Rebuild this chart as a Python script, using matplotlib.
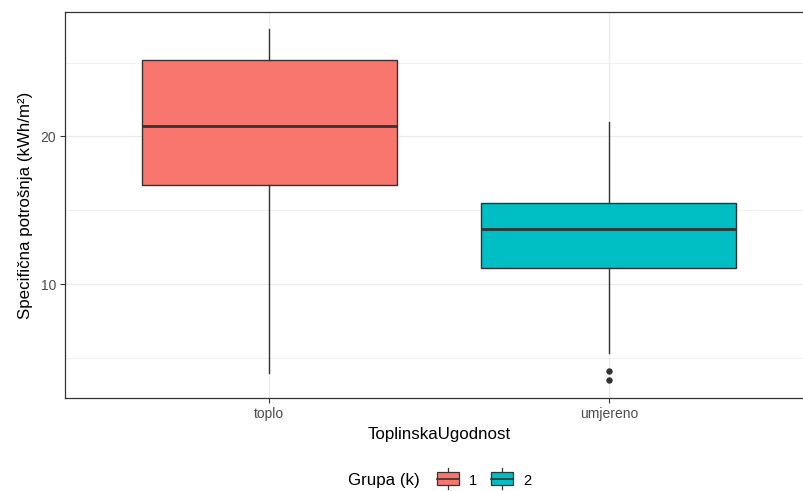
import matplotlib.pyplot as plt
from matplotlib.legend_handler import HandlerBase
from matplotlib.patches import Rectangle, Patch
from matplotlib.lines import Line2D
from matplotlib.offsetbox import HPacker

plt.rcParams['font.family'] = ['Liberation Sans', 'DejaVu Sans']

# podaci procijenjeni sa slike
kategorije = ["toplo", "umjereno"]
grupe = ["1", "2"]
boje = ["#F8766D", "#00BFC4"]
q1 = [16.68, 11.10]
medijan = [20.70, 13.74]
q3 = [25.19, 15.48]
donji_brk = [3.95, 5.35]
gornji_brk = [27.24, 20.97]
outlieri = [[], [4.10, 3.49]]

EDGE = "#333333"


class BoxHandler(HandlerBase):
    # legenda u ggplot stilu: kutija s medijanom i brkovima
    def create_artists(self, legend, orig_handle, xdescent, ydescent,
                       width, height, fontsize, trans):
        w = width
        h = height
        r = Rectangle((0, 0), w, h,
                      facecolor=orig_handle.get_facecolor(),
                      edgecolor=EDGE, lw=0.9, transform=trans)
        m = Line2D([0, w], [h * 0.5, h * 0.5], color=EDGE, lw=1.2,
                   transform=trans)
        t = Line2D([w / 2, w / 2], [h, h * 1.3], color=EDGE, lw=0.9,
                   transform=trans)
        b = Line2D([w / 2, w / 2], [0, -h * 0.3], color=EDGE, lw=0.9,
                   transform=trans)
        return [t, b, r, m]


fig = plt.figure(figsize=(8.04, 4.91), dpi=100)
ax = fig.add_axes([65 / 804, 1 - 398 / 491, (813 - 65) / 804, (398 - 12.3) / 491])

stats = []
for i in range(len(kategorije)):
    stats.append(dict(med=medijan[i], q1=q1[i], q3=q3[i],
                      whislo=donji_brk[i], whishi=gornji_brk[i],
                      fliers=outlieri[i]))

bp = ax.bxp(stats, positions=[1, 2], widths=0.75, patch_artist=True,
            showcaps=False, manage_ticks=False,
            boxprops=dict(edgecolor=EDGE, linewidth=1.0),
            whiskerprops=dict(color=EDGE, linewidth=1.0),
            medianprops=dict(color=EDGE, linewidth=2.0, solid_capstyle='butt'),
            flierprops=dict(marker='o', markerfacecolor=EDGE,
                            markeredgecolor=EDGE, markersize=3.6))
for patch, c in zip(bp['boxes'], boje):
    patch.set_facecolor(c)

ax.set_xlim(0.4, 2.6)
ax.set_ylim(2.28, 28.4)
ax.set_xticks([1, 2])
ax.set_xticklabels(kategorije)
ax.set_yticks([10, 20])
ax.set_yticks([5, 15, 25], minor=True)
ax.tick_params(axis='both', which='major', length=3.5, width=0.8,
               color=EDGE, labelcolor="#4D4D4D", labelsize=10, pad=3)
ax.tick_params(axis='y', which='minor', length=0)

ax.set_axisbelow(True)
ax.grid(True, which='major', color="#EBEBEB", linewidth=0.9)
ax.grid(True, which='minor', axis='y', color="#EBEBEB", linewidth=0.5)
for s in ax.spines.values():
    s.set_color(EDGE)
    s.set_linewidth(0.9)

ax.set_xlabel("ToplinskaUgodnost", fontsize=12.2, labelpad=4)
ax.set_ylabel("Specifična potrošnja (kWh/m²)", fontsize=12.2, labelpad=5)

handles = [Patch(facecolor=c) for c in boje]
leg = fig.legend(handles, grupe, title="Grupa (k)", loc='center',
                 bbox_to_anchor=(440 / 804, 1 - 481 / 491), ncol=2,
                 frameon=False, fontsize=10.5, title_fontsize=12.2,
                 handler_map={Patch: BoxHandler()},
                 handlelength=1.5, handleheight=1.0, handletextpad=0.7,
                 columnspacing=1.0)
# naslov legende lijevo od stavki, kao u ggplotu
tb = leg._legend_title_box
box = leg._legend_box
box._children = [HPacker(children=[tb, box._children[1]], pad=0, sep=12,
                         align="center")]

fig.savefig("out.png", dpi=100)
